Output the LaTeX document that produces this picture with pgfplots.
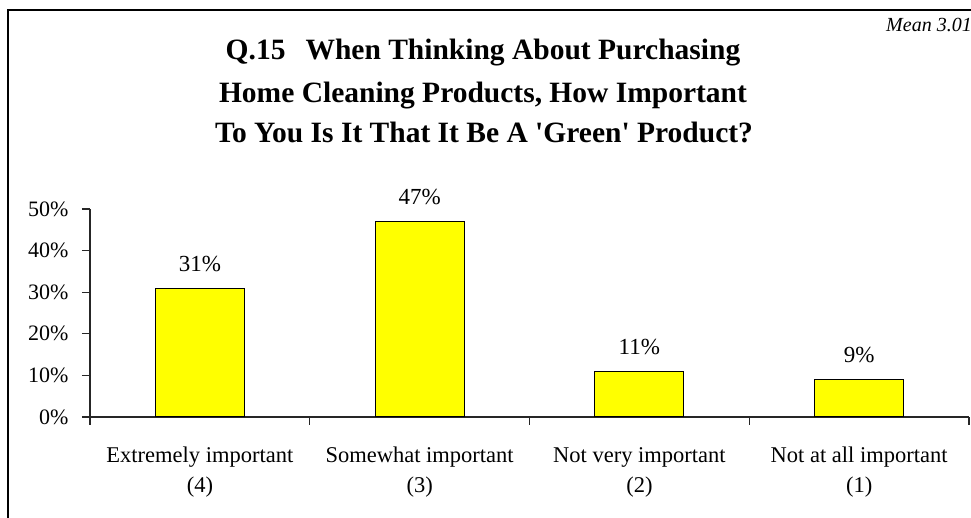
\documentclass[border=0pt]{standalone}
\usepackage{pgfplots}
\pgfplotsset{compat=1.18}
\usepackage{fontspec}
\setmainfont{Liberation Serif}
\newfontfamily\titlefont{Liberation Serif}[Ligatures=TeXOff]
\definecolor{baryellow}{RGB}{255,255,0}
\begin{document}
\begin{tikzpicture}
\path[use as bounding box] (0pt,0pt) rectangle (971pt,518pt);
\clip (0pt,0pt) rectangle (971pt,518pt);
\fill[white] (0pt,0pt) rectangle (971pt,518pt);
\draw[line width=2pt] (8pt,-5pt) -- (8pt,508pt) -- (980pt,508pt);
\node[anchor=base, inner sep=0pt, font=\titlefont\fontsize{29.5}{36}\selectfont\bfseries] at (483pt,458pt) {Q.15\hspace{20pt}When Thinking About Purchasing};
\node[anchor=base, inner sep=0pt, font=\titlefont\fontsize{29.5}{36}\selectfont\bfseries] at (483pt,415pt) {Home Cleaning Products, How Important};
\node[anchor=base, inner sep=0pt, font=\titlefont\fontsize{29.5}{36}\selectfont\bfseries] at (484pt,375pt) {To You Is It That It Be A 'Green' Product?};
\node[anchor=base west, inner sep=0pt, font=\fontsize{20}{24}\selectfont\itshape] at (886pt,486pt) {Mean 3.01};
\begin{axis}[
  at={(90pt,101pt)}, anchor=south west,
  scale only axis, width=879pt, height=208pt,
  xmin=-0.5, xmax=3.5, ymin=0, ymax=50,
  enlargelimits=false, clip=false,
  axis x line*=bottom, axis y line*=left,
  axis line style={line width=1.2pt, black!85, -},
  tick align=outside, major tick length=8pt,
  every tick/.style={line width=1.2pt, black!85},
  ytick={0,10,20,30,40,50},
  yticklabel={\pgfmathprintnumber{\tick}\%},
  yticklabel style={font=\fontsize{22}{26}\selectfont, anchor=east, xshift=-10pt},
  /pgf/number format/assume math mode=true,
  xtick={-0.5,0.5,1.5,2.5,3.5},
  xticklabels={,,,,,},
  extra x ticks={0,1,2,3},
  extra x tick labels={
    {\begin{tabular}[t]{@{}c@{}}Extremely important\\(4)\end{tabular}},
    {\begin{tabular}[t]{@{}c@{}}Somewhat important\\(3)\end{tabular}},
    {\begin{tabular}[t]{@{}c@{}}Not very important\\(2)\end{tabular}},
    {\begin{tabular}[t]{@{}c@{}}Not at all important\\(1)\end{tabular}}},
  extra x tick style={major tick length=0pt,
    xticklabel style={font=\fontsize{22.5}{30}\selectfont, anchor=base, yshift=-46pt}},
  ybar, bar width=89pt,
  nodes near coords={\pgfmathprintnumber{\pgfplotspointmeta}\%},
  every node near coord/.append style={font=\fontsize{23}{27}\selectfont, anchor=base, yshift=17pt, inner sep=0pt},
]
\addplot[fill=baryellow, draw=black, line width=1pt] coordinates {(0,31) (1,47) (2,11) (3,9)};
\end{axis}
\end{tikzpicture}
\end{document}
